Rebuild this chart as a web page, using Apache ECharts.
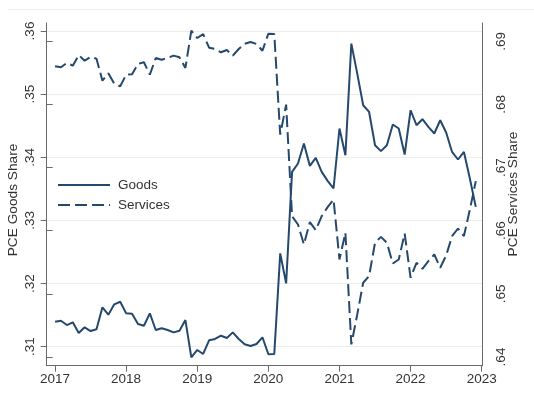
<!DOCTYPE html>
<html>
<head>
<meta charset="utf-8">
<title>PCE Goods and Services Shares</title>
<script src="https://cdn.jsdelivr.net/npm/echarts@6/dist/echarts.min.js"></script>
<style>
  html, body { margin: 0; padding: 0; background: #ffffff; }
  #chart { width: 534px; height: 398px; }
</style>
</head>
<body>
<div id="chart"></div>
<script>
// Monthly observations, January 2017 through December 2022
const startYear = 2017;
const years = ['2017', '2018', '2019', '2020', '2021', '2022', '2023'];
const goodsTicks = [0.31, 0.32, 0.33, 0.34, 0.35, 0.36];
const servicesTicks = [0.64, 0.65, 0.66, 0.67, 0.68, 0.69];

// Share of personal consumption expenditures spent on goods
const goodsShare = [
  0.31396, 0.31411, 0.31343, 0.31386, 0.31217, 0.31307, 0.31248, 0.31275, 0.31623, 0.31507, 0.31671, 0.31712,
  0.31528, 0.31522, 0.31359, 0.31332, 0.31528, 0.31264, 0.31293, 0.31264, 0.31227, 0.31253, 0.31422, 0.30832,
  0.30948, 0.30885, 0.31101, 0.31122, 0.31174, 0.31138, 0.31227, 0.31122, 0.31038, 0.31011, 0.31043, 0.31149,
  0.30880, 0.30885, 0.32478, 0.32003, 0.33769, 0.33902, 0.34218, 0.33864, 0.33991, 0.33769, 0.33627, 0.33506,
  0.34456, 0.34033, 0.35801, 0.35326, 0.34824, 0.34718, 0.34191, 0.34097, 0.34191, 0.34519, 0.34456, 0.34044,
  0.34745, 0.34508, 0.34603, 0.34481, 0.34377, 0.34587, 0.34392, 0.34085, 0.33965, 0.34085, 0.33665, 0.33215
];

// Share of personal consumption expenditures spent on services
const servicesShare = [
  0.68604, 0.68589, 0.68657, 0.68614, 0.68783, 0.68693, 0.68752, 0.68725, 0.68377, 0.68493, 0.68329, 0.68288,
  0.68472, 0.68478, 0.68641, 0.68668, 0.68472, 0.68736, 0.68707, 0.68736, 0.68773, 0.68747, 0.68578, 0.69168,
  0.69052, 0.69115, 0.68899, 0.68878, 0.68826, 0.68862, 0.68773, 0.68878, 0.68962, 0.68989, 0.68957, 0.68851,
  0.69120, 0.69115, 0.67522, 0.67997, 0.66231, 0.66098, 0.65782, 0.66136, 0.66009, 0.66231, 0.66373, 0.66494,
  0.65544, 0.65967, 0.64199, 0.64674, 0.65176, 0.65282, 0.65809, 0.65903, 0.65809, 0.65481, 0.65544, 0.65956,
  0.65255, 0.65492, 0.65397, 0.65519, 0.65623, 0.65413, 0.65608, 0.65915, 0.66035, 0.65915, 0.66335, 0.66785
];

const INK = '#24496d';
const AXIS = '#6a6a6a';
const TEXT = '#333333';
const FONT = 'Liberation Sans, Arial, sans-serif';

const monthX = (i) => startYear + i / 12;
const goodsPoints = goodsShare.map((v, i) => [monthX(i), v]);
const servicesPoints = servicesShare.map((v, i) => [monthX(i), v]);
const shareLabel = (v) => v.toFixed(2).replace(/^0/, '');

const chart = echarts.init(document.getElementById('chart'), null, { renderer: 'canvas' });

const plot = { left: 46.7, right: 51.3, top: 23, bottom: 32.3 };

chart.setOption({
  backgroundColor: '#ffffff',
  animation: false,
  textStyle: { fontFamily: FONT },
  grid: [
    // data area
    { left: plot.left, right: plot.right, top: plot.top, bottom: plot.bottom },
    // left scale, .31 to .36
    { left: plot.left, right: plot.right, top: 31, bottom: 51.3 },
    // right scale, .64 to .69
    { left: plot.left, right: plot.right, top: 41.3, bottom: 41 },
    // year scale
    { left: 55, right: 52.3, top: plot.top, bottom: plot.bottom }
  ],
  xAxis: [
    {
      gridIndex: 0, type: 'value', min: 2016.883, max: 2023.014,
      axisLine: { show: true, lineStyle: { color: AXIS, width: 1 } },
      axisTick: { show: false }, axisLabel: { show: false }, splitLine: { show: false }
    },
    { gridIndex: 1, type: 'value', min: 0, max: 1, show: false },
    { gridIndex: 2, type: 'value', min: 0, max: 1, show: false },
    {
      gridIndex: 3, type: 'value', min: 2017, max: 2023, interval: 1,
      axisLine: { show: false },
      axisTick: { show: true, length: 6, lineStyle: { color: AXIS } },
      axisLabel: {
        show: true, margin: 7, fontSize: 13.5, color: TEXT, fontFamily: FONT,
        formatter: (v) => years[Math.round(v) - startYear]
      },
      splitLine: { show: false }
    }
  ],
  yAxis: [
    {
      gridIndex: 0, type: 'value', min: 0.30699, max: 0.36127,
      axisLine: { show: true, lineStyle: { color: AXIS, width: 1 } },
      axisTick: { show: false }, axisLabel: { show: false }, splitLine: { show: false }
    },
    {
      gridIndex: 0, type: 'value', position: 'right', min: 0.63862, max: 0.6929,
      axisLine: { show: true, lineStyle: { color: AXIS, width: 1 } },
      axisTick: { show: false }, axisLabel: { show: false }, splitLine: { show: false }
    },
    {
      gridIndex: 1, type: 'value', min: goodsTicks[0], max: goodsTicks[goodsTicks.length - 1], interval: 0.01,
      axisLine: { show: false },
      axisTick: { show: true, length: 6, lineStyle: { color: AXIS } },
      axisLabel: {
        show: true, rotate: 90, margin: 9, fontSize: 13.5, color: TEXT, fontFamily: FONT,
        formatter: shareLabel
      },
      splitLine: { show: true, lineStyle: { color: '#ececec', width: 1 } }
    },
    {
      gridIndex: 2, type: 'value', position: 'right', min: servicesTicks[0], max: servicesTicks[servicesTicks.length - 1], interval: 0.01,
      axisLine: { show: false },
      axisTick: { show: true, length: 6, lineStyle: { color: AXIS } },
      axisLabel: {
        show: true, rotate: 90, margin: 12, fontSize: 13.5, color: TEXT, fontFamily: FONT,
        formatter: shareLabel
      },
      splitLine: { show: false }
    },
    { gridIndex: 3, type: 'value', min: 0, max: 1, show: false }
  ],
  legend: {
    show: true,
    orient: 'vertical',
    left: 57, top: 178,
    padding: 0,
    itemWidth: 52, itemHeight: 14, itemGap: 6,
    // line keys only, without a marker in the middle
    itemStyle: { opacity: 0 },
    textStyle: { fontSize: 13.5, color: TEXT, fontFamily: FONT, padding: [0, 0, 0, 3] },
    data: ['Goods', 'Services']
  },
  graphic: [
    {
      type: 'line', silent: true,
      shape: { x1: 8, y1: 9.5, x2: 534, y2: 9.5 },
      style: { stroke: '#efefef', lineWidth: 1 }
    },
    {
      type: 'text', silent: true, x: 13, y: 200, rotation: Math.PI / 2,
      style: {
        text: 'PCE Goods Share', fontSize: 13.7, fontFamily: FONT, fill: TEXT,
        align: 'center', verticalAlign: 'middle'
      }
    },
    {
      type: 'text', silent: true, x: 513, y: 194, rotation: Math.PI / 2,
      style: {
        text: 'PCE Services Share', fontSize: 13.7, fontFamily: FONT, fill: TEXT,
        align: 'center', verticalAlign: 'middle'
      }
    }
  ],
  series: [
    {
      name: 'Goods', type: 'line', xAxisIndex: 0, yAxisIndex: 0,
      data: goodsPoints, showSymbol: false, symbol: 'none',
      lineStyle: { color: INK, width: 2, type: 'solid' },
      itemStyle: { color: INK }
    },
    {
      name: 'Services', type: 'line', xAxisIndex: 0, yAxisIndex: 1,
      data: servicesPoints, showSymbol: false, symbol: 'none',
      lineStyle: { color: INK, width: 2, type: [12, 5] },
      itemStyle: { color: INK }
    }
  ]
});
</script>
</body>
</html>
